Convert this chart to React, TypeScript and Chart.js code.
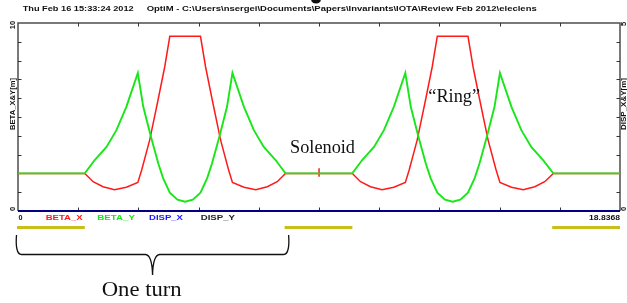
import React, { useEffect, useRef } from 'react';
import { Chart, registerables } from 'chart.js';

Chart.register(...registerables);

// ---- data ----
const S_MAX = 18.8368;

// BETA_X (red), s positions [m] and values [m]
const betaXS = [
  0, 2.09, 2.35, 2.66, 3.02, 3.39, 3.75, 3.87, 4.12, 4.38, 4.59, 4.75, 5.71, 5.87, 6.08, 6.34, 6.59, 6.71, 7.07, 7.44, 7.8, 8.11, 8.37,
  9.42, 9.42, 9.42, 9.42,
  10.46, 10.72, 11.03, 11.39, 11.76, 12.12, 12.24, 12.49, 12.75, 12.96, 13.12, 14.08, 14.24, 14.45, 14.71, 14.96, 15.08, 15.44, 15.81, 16.17, 16.48, 16.75,
  18.8368,
];
const betaX = [
  2.0, 2.0, 1.56, 1.29, 1.13, 1.26, 1.52, 2.18, 3.77, 5.89, 7.66, 9.29, 9.29, 7.66, 5.89, 3.77, 2.18, 1.52, 1.26, 1.13, 1.29, 1.56, 2.0,
  2.0, 2.28, 1.82, 2.0,
  2.0, 1.56, 1.29, 1.13, 1.26, 1.52, 2.18, 3.77, 5.89, 7.66, 9.29, 9.29, 7.66, 5.89, 3.77, 2.18, 1.52, 1.26, 1.13, 1.29, 1.56, 2.0,
  2.0,
];

// BETA_Y (green)
const betaYS = [
  0, 2.09, 2.4, 2.77, 3.08, 3.39, 3.75, 3.92, 4.16, 4.39, 4.54, 4.75, 4.99, 5.23, 5.47, 5.71, 5.92, 6.07, 6.3, 6.54, 6.71, 7.07, 7.38, 7.69, 8.06, 8.37,
  10.46, 10.77, 11.14, 11.45, 11.76, 12.12, 12.29, 12.53, 12.76, 12.91, 13.12, 13.36, 13.6, 13.84, 14.08, 14.29, 14.44, 14.67, 14.91, 15.08, 15.44, 15.75, 16.06, 16.43, 16.75,
  18.8368,
];
const betaY = [
  2.0, 2.0, 2.71, 3.41, 4.3, 5.54, 7.34, 5.54, 3.95, 2.53, 1.75, 0.98, 0.6, 0.49, 0.6, 0.98, 1.75, 2.53, 3.95, 5.54, 7.34, 5.54, 4.3, 3.41, 2.71, 2.0,
  2.0, 2.71, 3.41, 4.3, 5.54, 7.34, 5.54, 3.95, 2.53, 1.75, 0.98, 0.6, 0.49, 0.6, 0.98, 1.75, 2.53, 3.95, 5.54, 7.34, 5.54, 4.3, 3.41, 2.71, 2.0,
  2.0,
];

// DISP_X / DISP_Y (right axis)
const dispS = [0, 18.8368];
const dispX = [0, 0];
const dispY = [0, 0];

// axis ranges and tick labels
const leftRange = [0, 10];
const rightRange = [0, 5];
const leftTickLabels = ['0', '10'];
const rightTickLabels = ['0', '5'];
const bottomTickLabels = ['0', '18.8368'];
const tickDivisions = 10;

const seriesNames = ['BETA_X', 'BETA_Y', 'DISP_X', 'DISP_Y'];
const seriesColors = ['#ff1a1a', '#19e619', '#1a1aff', '#222222'];

// solenoid (drift) regions and the one-turn span
const driftStart = [0, 8.3733, 16.7466];
const driftEnd = [2.0901, 10.4634, 18.8368];
const turnRange = [0, 8.3733];

const titleDate = 'Thu Feb 16 15:33:24 2012';
const titlePath = 'OptiM - C:\\Users\\nsergei\\Documents\\Papers\\Invariants\\IOTA\\Review Feb 2012\\eleclens';

const toPts = (xs: number[], ys: number[]) => xs.map((s, i) => ({ x: s, y: ys[i] }));

function fitText(ctx: CanvasRenderingContext2D, text: string, left: number, baseline: number, width: number) {
  const m = ctx.measureText(text).width;
  ctx.save();
  ctx.translate(left, baseline);
  ctx.scale(width / m, 1);
  ctx.textAlign = 'left';
  ctx.textBaseline = 'alphabetic';
  ctx.fillText(text, 0, 0);
  ctx.restore();
}

function rotText(ctx: CanvasRenderingContext2D, text: string, cx: number, cy: number, len?: number) {
  ctx.save();
  ctx.translate(cx, cy);
  ctx.rotate(-Math.PI / 2);
  ctx.textAlign = 'center';
  ctx.textBaseline = 'middle';
  if (len) {
    const m = ctx.measureText(text).width;
    ctx.scale(len / m, 1);
  }
  ctx.fillText(text, 0, 0);
  ctx.restore();
}

const decoPlugin = {
  id: 'deco',
  beforeDatasetsDraw(chart: any) {
    const { ctx, chartArea: a, scales } = chart;
    const xs = scales.x, ys = scales.y, y2 = scales.y2;
    ctx.save();
    ctx.strokeStyle = '#4d4d4d';
    ctx.lineWidth = 1.5;
    ctx.beginPath();
    ctx.moveTo(a.left, a.bottom);
    ctx.lineTo(a.left, a.top);
    ctx.lineTo(a.right, a.top);
    ctx.lineTo(a.right, a.bottom);
    ctx.stroke();
    ctx.lineWidth = 1;
    ctx.strokeStyle = '#333';
    ctx.beginPath();
    for (let i = 1; i < tickDivisions; i++) {
      const px = Math.round(xs.getPixelForValue((S_MAX * i) / tickDivisions)) + 0.5;
      ctx.moveTo(px, a.top);
      ctx.lineTo(px, a.top + 3.5);
      ctx.moveTo(px, a.bottom);
      ctx.lineTo(px, a.bottom - 3.5);
      const vy = leftRange[0] + ((leftRange[1] - leftRange[0]) * i) / tickDivisions;
      const py = Math.round(ys.getPixelForValue(vy)) + 0.5;
      ctx.moveTo(a.left, py);
      ctx.lineTo(a.left + 3.5, py);
      const vy2 = rightRange[0] + ((rightRange[1] - rightRange[0]) * i) / tickDivisions;
      const py2 = Math.round(y2.getPixelForValue(vy2)) + 0.5;
      ctx.moveTo(a.right, py2);
      ctx.lineTo(a.right - 3.5, py2);
    }
    ctx.stroke();
    ctx.restore();
  },
  afterDraw(chart: any) {
    const { ctx, scales } = chart;
    const xs = scales.x, ys = scales.y, y2 = scales.y2;
    ctx.save();
    // clipped glyph fragment at the very top of the slide
    ctx.fillStyle = '#111';
    ctx.beginPath();
    ctx.ellipse(316, -1, 5, 4.5, 0, 0, Math.PI * 2);
    ctx.fill();

    // title
    ctx.fillStyle = '#111';
    ctx.font = 'bold 8px "Liberation Sans", Arial, sans-serif';
    fitText(ctx, titleDate, 22.7, 10.5, 111);
    fitText(ctx, titlePath, 146.7, 10.5, 390);

    // left / right axis texts
    ctx.font = 'bold 7.5px "Liberation Sans", Arial, sans-serif';
    rotText(ctx, leftTickLabels[1], 13, ys.getPixelForValue(leftRange[1]) + 2);
    rotText(ctx, leftTickLabels[0], 13, ys.getPixelForValue(leftRange[0]) - 2);
    rotText(ctx, rightTickLabels[1], 623.5, y2.getPixelForValue(rightRange[1]) + 1);
    rotText(ctx, rightTickLabels[0], 623.5, y2.getPixelForValue(rightRange[0]) - 2);
    ctx.font = 'bold 8px "Liberation Sans", Arial, sans-serif';
    rotText(ctx, 'BETA_X&Y[m]', 13, 104, 52);
    rotText(ctx, 'DISP_X&Y[m]', 623.5, 104, 52);

    // bottom labels
    ctx.font = 'bold 7.5px "Liberation Sans", Arial, sans-serif';
    fitText(ctx, bottomTickLabels[0], xs.getPixelForValue(0) + 0.5, 220, 4);
    fitText(ctx, bottomTickLabels[1], xs.getPixelForValue(S_MAX) - 31, 220, 31);
    const lx = [45.7, 97.3, 149, 200.7];
    const lw = [37, 37.7, 34, 34.3];
    seriesNames.forEach((n, i) => {
      ctx.fillStyle = seriesColors[i];
      fitText(ctx, n, lx[i], 220, lw[i]);
    });

    // drift bars
    ctx.strokeStyle = '#c8bf1c';
    ctx.lineWidth = 3;
    ctx.beginPath();
    driftStart.forEach((s0, i) => {
      ctx.moveTo(xs.getPixelForValue(s0) - 1, 227.5);
      ctx.lineTo(xs.getPixelForValue(driftEnd[i]), 227.5);
    });
    ctx.stroke();

    // brace
    const x0 = xs.getPixelForValue(turnRange[0]) - 1.5;
    const x1 = xs.getPixelForValue(turnRange[1]) + 3;
    const xc = (x0 + x1) / 2;
    const yt = 235, ym = 254.5, yb = 275;
    ctx.strokeStyle = '#111';
    ctx.lineWidth = 1.3;
    ctx.beginPath();
    ctx.moveTo(x0, yt);
    ctx.bezierCurveTo(x0 - 0.8, yt + 10, x0, ym, x0 + 5, ym);
    ctx.lineTo(xc - 7, ym);
    ctx.quadraticCurveTo(xc - 0.5, ym + 0.5, xc, yb);
    ctx.quadraticCurveTo(xc + 0.5, ym + 0.5, xc + 7, ym);
    ctx.lineTo(x1 - 5, ym);
    ctx.bezierCurveTo(x1, ym, x1 + 0.8, yt + 10, x1, yt);
    ctx.stroke();

    // annotations
    ctx.fillStyle = '#111';
    ctx.font = '22px "Liberation Serif", "Times New Roman", serif';
    fitText(ctx, 'One turn', 101.7, 296, 80);
    ctx.font = '18.5px "Liberation Serif", "Times New Roman", serif';
    fitText(ctx, 'Solenoid', 290, 153, 65);
    ctx.font = '18px "Liberation Serif", "Times New Roman", serif';
    fitText(ctx, '\u201CRing\u201D', 428.3, 101.7, 51.7);
    ctx.restore();
  },
};

export default function App() {
  const ref = useRef<HTMLCanvasElement | null>(null);
  useEffect(() => {
    if (!ref.current) return;
    const chart = new Chart(ref.current, {
      type: 'line',
      data: {
        datasets: [
          {
            label: seriesNames[1],
            data: toPts(betaYS, betaY),
            borderColor: seriesColors[1],
            borderWidth: 1.9,
            yAxisID: 'y',
          },
          {
            label: seriesNames[0],
            data: toPts(betaXS, betaX),
            borderColor: seriesColors[0],
            borderWidth: 1.5,
            yAxisID: 'y',
          },
          {
            label: seriesNames[2],
            data: toPts(dispS, dispX),
            borderColor: 'rgba(0,0,255,0.5)',
            borderWidth: 2,
            yAxisID: 'y2',
            clip: false,
          },
          {
            label: seriesNames[3],
            data: toPts(dispS, dispY),
            borderColor: '#000000',
            borderWidth: 2,
            yAxisID: 'y2',
            clip: false,
          },
        ],
      },
      options: {
        responsive: false,
        animation: false,
        events: [],
        layout: { padding: { left: 18, top: 23, right: 7, bottom: 92 } },
        plugins: { legend: { display: false }, tooltip: { enabled: false } },
        elements: { point: { radius: 0 }, line: { tension: 0 } },
        scales: {
          x: { type: 'linear', min: 0, max: S_MAX, display: false },
          y: { type: 'linear', min: leftRange[0], max: leftRange[1], display: false },
          y2: { type: 'linear', position: 'right', min: rightRange[0], max: rightRange[1], display: false },
        },
      },
      plugins: [decoPlugin],
    } as any);
    return () => chart.destroy();
  }, []);
  return (
    <div style={{ position: 'absolute', left: 0, top: 0, width: 627, height: 303, background: '#fff' }}>
      <canvas ref={ref} width={627} height={303} style={{ display: 'block' }} />
    </div>
  );
}
